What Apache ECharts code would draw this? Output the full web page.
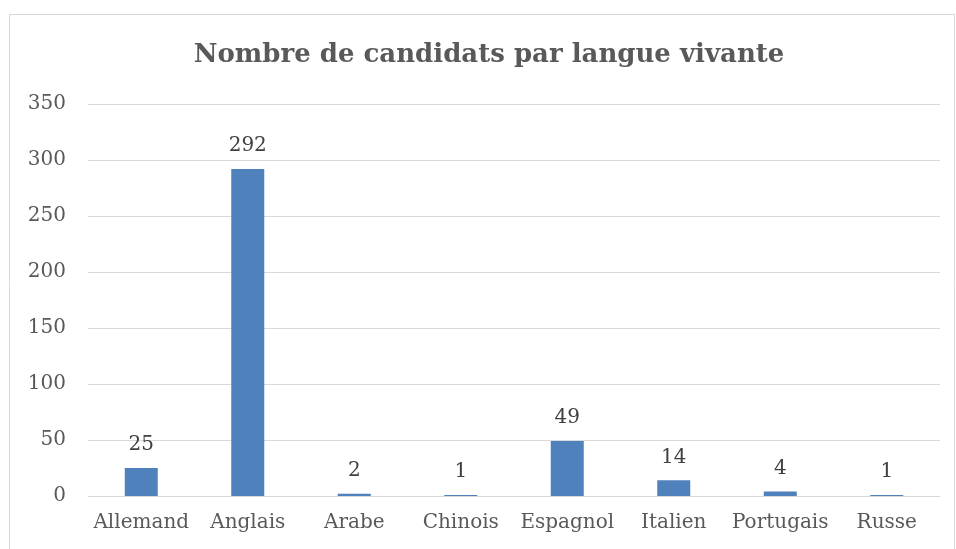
<!DOCTYPE html>
<html>
<head>
<meta charset="utf-8" />
<title>Nombre de candidats par langue vivante</title>
<script src="https://cdn.jsdelivr.net/npm/echarts@6/dist/echarts.min.js"></script>
<style>
  html, body { margin: 0; padding: 0; background: #fff; }
  #main { width: 956px; height: 549px; }
</style>
</head>
<body>
<div id="main"></div>
<script type="text/javascript">
    // langues et nombre de candidats
    var langues = ['Allemand', 'Anglais', 'Arabe', 'Chinois', 'Espagnol', 'Italien', 'Portugais', 'Russe'];
    var candidats = [25, 292, 2, 1, 49, 14, 4, 1];
    var yTicks = [0, 50, 100, 150, 200, 250, 300, 350];

    var serif = '"DejaVu Serif", "Liberation Serif", serif';
    var myChart = echarts.init(document.getElementById('main'));

    var option = {
        animation: false,
        backgroundColor: '#ffffff',
        title: {
            text: 'Nombre de candidats par langue vivante',
            left: 484,
            textAlign: 'center',
            top: 37,
            textStyle: {
                fontFamily: serif,
                fontWeight: 'bold',
                fontSize: 26,
                color: '#595959'
            }
        },
        graphic: [{
            type: 'rect',
            shape: { x: 9.5, y: 14.5, width: 945, height: 560 },
            style: { fill: 'none', stroke: '#d9d9d9', lineWidth: 1 },
            silent: true
        }],
        grid: { left: 88, right: 16, top: 104, bottom: 53 },
        xAxis: {
            type: 'category',
            data: langues,
            axisLine: { lineStyle: { color: '#d9d9d9', width: 1 } },
            axisTick: { show: false },
            axisLabel: {
                interval: 0,
                fontFamily: serif,
                fontSize: 20,
                color: '#595959',
                margin: 17
            }
        },
        yAxis: {
            type: 'value',
            min: yTicks[0],
            max: yTicks[yTicks.length - 1],
            interval: 50,
            axisLine: { show: false },
            axisTick: { show: false },
            splitLine: { lineStyle: { color: '#d9d9d9', width: 1 } },
            axisLabel: {
                fontFamily: serif,
                fontSize: 20,
                color: '#595959',
                margin: 22
            }
        },
        series: [{
            name: 'Candidats',
            type: 'bar',
            data: candidats,
            barWidth: 33,
            itemStyle: { color: '#4f81bd' },
            label: {
                show: true,
                position: 'top',
                distance: 13,
                fontFamily: serif,
                fontSize: 20,
                color: '#404040'
            }
        }]
    };

    myChart.setOption(option);
</script>
</body>
</html>
